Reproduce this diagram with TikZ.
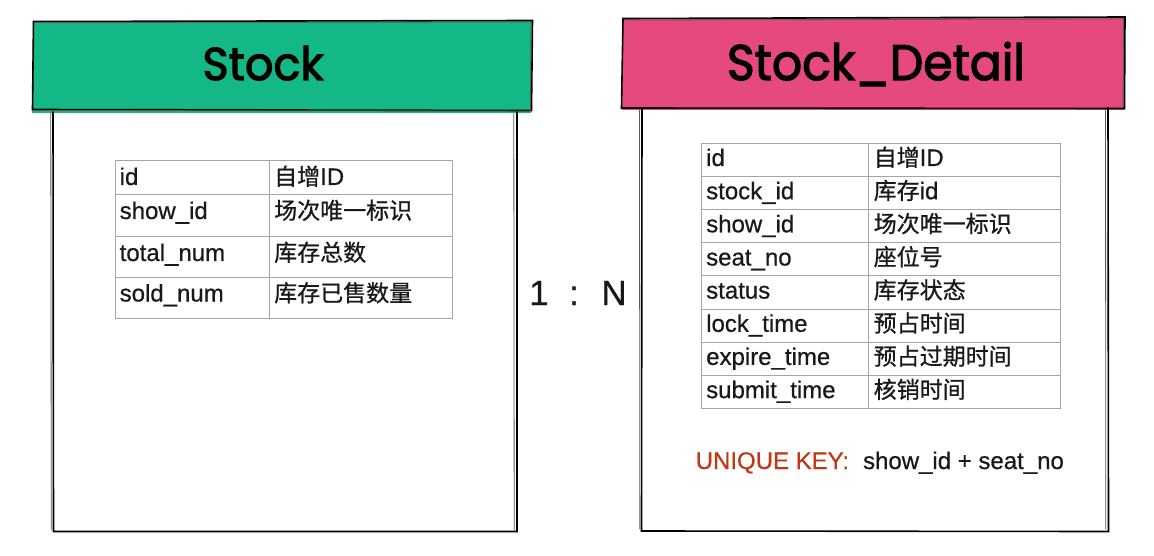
\documentclass[tikz,border=0pt]{standalone}
\usepackage{fontspec}
\setmainfont[FakeBold=0.6]{Liberation Sans}
\newfontfamily\zhfont[FakeBold=0.8]{Noto Sans CJK SC}
\newfontfamily\handfont[FakeBold=2.5]{Poppins}
\newcommand\zh[1]{{\zhfont\fontsize{23}{27}\selectfont #1}}
\definecolor{hgreen}{RGB}{20,184,134}
\definecolor{hpink}{RGB}{230,73,128}
\definecolor{ukred}{RGB}{193,56,21}
\definecolor{gridc}{RGB}{165,165,165}
\definecolor{inkc}{RGB}{25,25,25}
\begin{document}
\begin{tikzpicture}[x=1pt,y=-1pt,
  sk/.style={line width=1.6pt,black,line cap=round},
  sk2/.style={line width=0.8pt,black!65,line cap=round},
  gridline/.style={line width=1pt,gridc},
  cell/.style={anchor=base west,inner sep=0pt,text=inkc,font=\fontsize{24}{28}\selectfont},
  title/.style={anchor=base,inner sep=0pt,font=\handfont},
  ratio/.style={anchor=base west,inner sep=0pt,text=inkc,font=\fontsize{35}{40}\selectfont}]
\useasboundingbox (0,0) rectangle (1154,556);

% ---------- left entity: Stock ----------
\fill[hgreen] (33,22) -- (532,21) -- (531,113) -- (32,113) -- cycle;
\draw[sk] (33.5,21.5) -- (532.5,20.5) -- (531.5,110.5) -- (32.5,109.5) -- cycle;
\draw[sk2] (34.5,22.5) -- (531,22) -- (530.5,111) -- (33.5,110.5);
\draw[sk] (53,112) -- (53.5,531.5) -- (517,531.5) -- (517,112);
\draw[sk2] (50.8,113) -- (51.3,530);
\draw[sk2] (513.8,113) -- (514.2,530);
\node[title] (stock) at (263,80) {\resizebox{121pt}{34pt}{Stock}};

% left table
\draw[gridline] (115,161) rectangle (452,318);
\draw[gridline] (269,161) -- (269,318);
\foreach \yy in {195,237,277} \draw[gridline] (115,\yy) -- (452,\yy);
\node[cell] (la1) at (119.5,185) {id};
\node[cell] (lb1) at (274,185) {\zh{自增}ID};
\node[cell] (la2) at (119.5,219) {show\_id};
\node[cell] (lb2) at (274,219) {\zh{场次唯一标识}};
\node[cell] (la3) at (119.5,261) {total\_num};
\node[cell] (lb3) at (274,261) {\zh{库存总数}};
\node[cell] (la4) at (119.5,301.5) {sold\_num};
\node[cell] (lb4) at (274,301.5) {\zh{库存已售数量}};

% ---------- ratio ----------
\node[ratio] (rel) at (529,305) {1\hspace{20.5pt}:\hspace{22.5pt}N};

% ---------- right entity: Stock_Detail ----------
\fill[hpink] (622.5,19) -- (1125,17.5) -- (1124,110) -- (621.5,110) -- cycle;
\draw[sk] (623,18.5) -- (1125,17) -- (1124.5,108.5) -- (621.5,108) -- cycle;
\draw[sk2] (624,20) -- (1123.5,19) -- (1123,107);
\draw[sk] (642,108) -- (641.5,531) -- (1108.5,531.5) -- (1108,108);
\draw[sk2] (639.5,110) -- (639.8,529);
\draw[sk2] (1105.5,110) -- (1105.8,529);
\node[title] (detail) at (876,80) {\resizebox{298pt}{38pt}{Stock\_Detail}};

% right table
\draw[gridline] (701.5,143.3) rectangle (1060.5,408.5);
\draw[gridline] (868.3,143.3) -- (868.3,408.5);
\foreach \k in {1,...,7} \draw[gridline] (701.5,143.3+33.15*\k) -- (1060.5,143.3+33.15*\k);
\node[cell] (ra1) at (706,166) {id};
\node[cell] (rb1) at (873.5,166) {\zh{自增}ID};
\node[cell] (ra2) at (706,199.2) {stock\_id};
\node[cell] (rb2) at (873.5,199.2) {\zh{库存}id};
\node[cell] (ra3) at (706,232.3) {show\_id};
\node[cell] (rb3) at (873.5,232.3) {\zh{场次唯一标识}};
\node[cell] (ra4) at (706,265.5) {seat\_no};
\node[cell] (rb4) at (873.5,265.5) {\zh{座位号}};
\node[cell] (ra5) at (706,298.6) {status};
\node[cell] (rb5) at (873.5,298.6) {\zh{库存状态}};
\node[cell] (ra6) at (706,331.8) {lock\_time};
\node[cell] (rb6) at (873.5,331.8) {\zh{预占时间}};
\node[cell] (ra7) at (706,364.9) {expire\_time};
\node[cell] (rb7) at (873.5,364.9) {\zh{预占过期时间}};
\node[cell] (ra8) at (706,398.1) {submit\_time};
\node[cell] (rb8) at (873.5,398.1) {\zh{核销时间}};

\node[cell] (ukey) at (695.5,469) {\textcolor{ukred}{UNIQUE KEY:}\hspace{14pt}show\_id + seat\_no};
\end{tikzpicture}
\end{document}
